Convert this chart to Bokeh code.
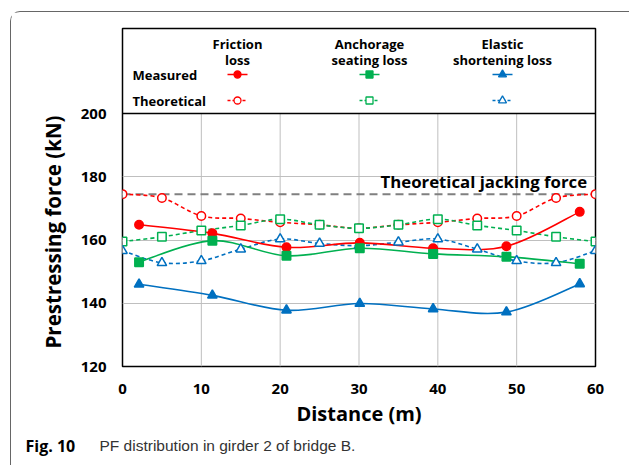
from bokeh.plotting import figure
from bokeh.layouts import column
from bokeh.models import Range1d, FixedTicker, Label, Span, Title
from bokeh.embed import file_html
from bokeh.resources import INLINE

# ---- data ----
dist_theory = [0, 5, 10, 15, 20, 25, 30, 35, 40, 45, 50, 55, 60]
friction_theory = [174.5, 173.3, 167.6, 166.8, 165.6, 164.8, 163.7, 164.8, 165.6, 166.8, 167.6, 173.3, 174.5]
anchorage_theory = [159.5, 161.0, 163.0, 164.6, 166.6, 164.8, 163.7, 164.8, 166.6, 164.6, 163.0, 161.0, 159.5]
elastic_theory = [156.6, 152.8, 153.4, 157.1, 160.3, 158.9, 158.2, 159.3, 160.3, 157.1, 153.4, 152.8, 156.6]

dist_meas = [2.1, 11.4, 20.8, 30.1, 39.4, 48.7, 58.0]
friction_meas = [164.8, 162.1, 157.7, 159.1, 157.4, 158.0, 168.9]
anchorage_meas = [153.0, 159.8, 155.0, 157.4, 155.6, 154.7, 152.5]
elastic_meas = [146.0, 142.5, 137.8, 139.9, 138.2, 137.2, 146.1]

jacking_force = 174.5
x_ticks = [0, 10, 20, 30, 40, 50, 60]
y_ticks = [120, 140, 160, 180, 200]

legend_rows = ["Measured", "Theoretical"]
legend_headers = [("Friction", "loss"), ("Anchorage", "seating loss"), ("Elastic", "shortening loss")]

RED, GREEN, BLUE = "#FF0000", "#00B050", "#0070C0"
FONT = "Open Sans"

# ---- layout (content starts at page (11, 12) because of the framed column) ----
W = 618
FL, FR, FT, FB = 111, 34, 16, 64
MAIN_H = 418
CAP_H = 35
frame_w = W - FL - FR
frame_h = MAIN_H - FT - FB
PX_Y = 253 / 80.0              # pixels per kN in the data region
PX_X = frame_w / 60.0          # pixels per metre
Y_TOP = 200 + (frame_h - 253) / PX_Y


def lx(px):   # pixels from frame left -> x data
    return px / PX_X


def ly(px):   # pixels above the 200 line -> y data
    return 200 + px / PX_Y


p = figure(width=W, height=MAIN_H, output_backend="svg", toolbar_location=None,
           x_range=Range1d(0, 60), y_range=Range1d(120, Y_TOP),
           min_border_left=FL, min_border_right=FR, min_border_top=FT, min_border_bottom=FB)
p.xgrid.visible = False
p.ygrid.grid_line_color = "#BFBFBF"
p.ygrid.ticker = FixedTicker(ticks=y_ticks[1:-1])
p.outline_line_color = "black"
p.outline_line_width = 1.5

for ax in (p.xaxis[0], p.yaxis[0]):
    ax.axis_line_color = None
    ax.major_tick_line_color = None
    ax.minor_tick_line_color = None
    ax.major_tick_out = 0
    ax.major_tick_in = 0
    ax.major_label_text_font = FONT
    ax.major_label_text_font_style = "bold"
    ax.major_label_text_font_size = "15px"
    ax.major_label_text_color = "black"
    ax.axis_label_text_font = FONT
    ax.axis_label_text_font_style = "bold"
    ax.axis_label_text_font_size = "20px"
    ax.axis_label_text_color = "black"
p.xaxis.ticker = FixedTicker(ticks=x_ticks)
p.yaxis.ticker = FixedTicker(ticks=y_ticks)
p.yaxis.bounds = (y_ticks[0], y_ticks[-1])
p.xaxis.major_label_standoff = 17
p.yaxis.major_label_standoff = 16
p.xaxis.axis_label = "Distance (m)"
p.xaxis.axis_label_standoff = 3

# y-axis title, aligned to the data region (not the legend box above it)
p.add_layout(Title(text="Prestressing force (kN)", align="left", offset=18,
                   text_font=FONT, text_font_style="bold", text_font_size="20.5px",
                   text_color="black", standoff=21), "left")

# vertical gridlines only inside the data region
inner = x_ticks[1:-1]
p.segment(x0=inner, y0=[y_ticks[0]] * len(inner), x1=inner, y1=[y_ticks[-1]] * len(inner),
          line_color="#BFBFBF", line_width=1)
# border between legend box and data region
p.add_layout(Span(location=y_ticks[-1], dimension="width", line_color="black", line_width=1.5))

# jacking force
p.segment(x0=[x_ticks[0]], y0=[jacking_force], x1=[x_ticks[-1]], y1=[jacking_force],
          line_color="#808080", line_width=2, line_dash="8 5")
p.add_layout(Label(x=lx(258), y=ly(-67.5), text="Theoretical jacking force",
                   text_font=FONT, text_font_style="bold", text_font_size="16.8px",
                   text_baseline="middle", text_color="black"))


def smooth(xs, ys):
    n = len(xs)
    d = dict(x0=[], y0=[], x1=[], y1=[], cx0=[], cy0=[], cx1=[], cy1=[])
    for i in range(n - 1):
        a = max(i - 1, 0)
        b = min(i + 2, n - 1)
        d["x0"].append(xs[i]); d["y0"].append(ys[i])
        d["x1"].append(xs[i + 1]); d["y1"].append(ys[i + 1])
        d["cx0"].append(xs[i] + (xs[i + 1] - xs[a]) / 6)
        d["cy0"].append(ys[i] + (ys[i + 1] - ys[a]) / 6)
        d["cx1"].append(xs[i + 1] - (xs[b] - xs[i]) / 6)
        d["cy1"].append(ys[i + 1] - (ys[b] - ys[i]) / 6)
    return d


series = [
    (dist_theory, friction_theory, RED, "circle", False),
    (dist_theory, anchorage_theory, GREEN, "square", False),
    (dist_theory, elastic_theory, BLUE, "triangle", False),
    (dist_meas, friction_meas, RED, "circle", True),
    (dist_meas, anchorage_meas, GREEN, "square", True),
    (dist_meas, elastic_meas, BLUE, "triangle", True),
]
for xs, ys, col, mk, filled in series:
    p.bezier(line_color=col, line_width=1.6,
             line_dash="solid" if filled else "4 3", **smooth(xs, ys))
for xs, ys, col, mk, filled in series:
    p.scatter(xs, ys, marker=mk, size=8.5 if mk != "triangle" else 9.5,
              line_color=col, line_width=1.5,
              fill_color=col if filled else "white")

# ---- legend box (upper part of the frame) ----
cols_px = [115, 247, 380]
hdr_kw = dict(text_font=FONT, text_font_style="bold", text_font_size="13px",
              text_align="center", text_baseline="middle", text_color="black")
for cx, (l1, l2) in zip(cols_px, legend_headers):
    p.add_layout(Label(x=lx(cx), y=ly(70), text=l1, **hdr_kw))
    p.add_layout(Label(x=lx(cx), y=ly(54), text=l2, **hdr_kw))
row_kw = dict(text_font=FONT, text_font_style="bold", text_font_size="13px",
              text_align="left", text_baseline="middle", text_color="black")
row_px = [39, 13]
for ry, name in zip(row_px, legend_rows):
    p.add_layout(Label(x=lx(10), y=ly(ry), text=name, **row_kw))
for cx, col, mk in zip(cols_px, [RED, GREEN, BLUE], ["circle", "square", "triangle"]):
    for ry, filled in zip(row_px, (True, False)):
        p.line([lx(cx - 10), lx(cx + 10)], [ly(ry), ly(ry)], line_color=col,
               line_width=1.5, line_dash="solid" if filled else "3 2")
        p.scatter([lx(cx)], [ly(ry)], marker=mk, size=7 if mk != "triangle" else 8,
                  line_color=col, line_width=1.3, fill_color=col if filled else "white")

# ---- caption ----
cap = figure(width=W, height=CAP_H, output_backend="svg", toolbar_location=None,
             x_range=Range1d(0, W), y_range=Range1d(CAP_H, 0),
             x_axis_type=None, y_axis_type=None,
             min_border_left=0, min_border_right=0, min_border_top=0, min_border_bottom=0)
cap.frame_align = False
cap.xgrid.visible = False
cap.ygrid.visible = False
cap.outline_line_color = None
cap.add_layout(Label(x=14, y=15, text="Fig. 10", text_font=FONT, text_font_style="bold",
                     text_font_size="16px", text_baseline="middle", text_color="black"))
cap.add_layout(Label(x=88, y=15, text="PF distribution in girder 2 of bridge B.",
                     text_font="Liberation Sans", text_font_size="15.5px",
                     text_baseline="middle", text_color="#333333"))

layout = column(p, cap, spacing=0)
layout.styles = {"margin-left": "10px", "margin-top": "11px",
                 "border-left": "1px solid #666666", "border-top": "1px solid #666666",
                 "border-top-left-radius": "10px"}

open("out.html", "w").write(file_html(layout, INLINE))
